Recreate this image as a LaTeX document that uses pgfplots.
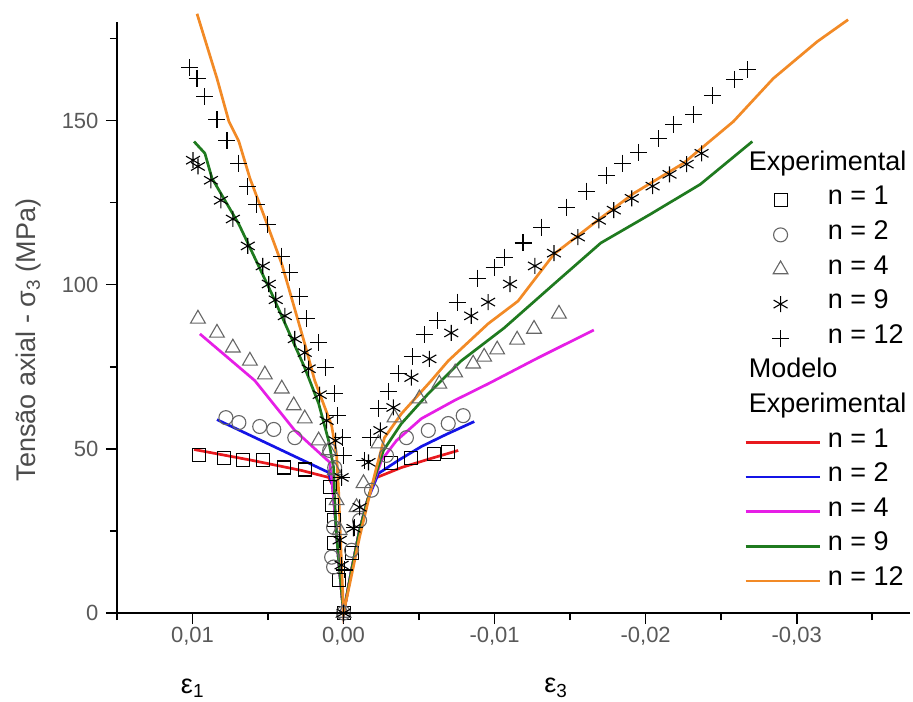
\documentclass[border=0pt]{standalone}
\usepackage{fontspec}
\setmainfont{Liberation Sans}
\usepackage{pgfplots}
\pgfplotsset{compat=1.18}
\definecolor{cRed}{HTML}{E8191E}
\definecolor{cBlue}{HTML}{1414E6}
\definecolor{cMag}{HTML}{E61EE6}
\definecolor{cGreen}{HTML}{1F7A1F}
\definecolor{cOrange}{HTML}{F28A26}
\pgfplotsset{
  markleg/.style={legend image code/.code={\path[draw=none,fill=none] (0bp,-0.5bp) rectangle (74bp,0.5bp);\draw[mark repeat=1,##1] plot[only marks] coordinates {(35bp,0bp)};}},
  lineleg/.style={legend image code/.code={\draw[##1] (0bp,0bp) -- (74bp,0bp);}},
  expm/.style={only marks, markleg, mark options={line width=1.1bp}},
  modl/.style={no marks, line width=2.7bp, lineleg},
}
\begin{document}
\begin{tikzpicture}
\begin{axis}[
  at={(0,0)}, anchor=south west,
  scale only axis, width=793bp, height=591bp,
  x dir=reverse, xmin=-0.0375, xmax=0.015, ymin=0, ymax=180,
  axis lines*=left, axis line style={line width=1.6bp},
  clip=false,
  xtick={0.01,0,-0.01,-0.02,-0.03},
  xticklabels={{0,01},{0,00},{-0,01},{-0,02},{-0,03}},
  minor xtick={0.015,0.005,-0.005,-0.015,-0.025,-0.035},
  ytick={0,50,100,150}, minor ytick={25,75,125,175},
  tick align=outside,
  major tick length=11bp, minor tick length=7bp,
  every tick/.style={line width=1.6bp, black},
  scaled x ticks=false,
  /pgf/number format/assume math mode=true,
  ticklabel style={font=\fontsize{22bp}{26bp}\selectfont, text=black!65},
  yticklabel style={xshift=-4bp},
  ylabel={Tensão axial - σ\textsubscript{3} (MPa)},
  ylabel shift=14bp,
  ylabel style={font=\fontsize{27bp}{32bp}\selectfont, text=black!70, at={(ticklabel cs:0.462)}},
  legend style={at={(rel axis cs:0.7907,0.7865)}, anchor=north west, draw=none, fill=none,
    font=\fontsize{27bp}{30bp}\selectfont, inner sep=0pt, column sep=7bp, row sep=0pt,
    nodes={inner sep=0pt, text height=22bp, text depth=12.6bp}},
  legend cell align=left,
]
\addlegendimage{empty legend}\addlegendentry{\hspace*{-79bp}Experimental}

\addplot[expm, mark=square, mark size=6.5bp, black] coordinates {
(0.00957,48.0) (0.00792,47.1) (0.00667,46.5) (0.00535,46.5) (0.00396,44.3) (0.00257,43.7)
(0.00092,38.3) (0.00079,32.8) (0.00066,28.2) (0.00066,21.3) (0.00033,10.0) (0,0)
(-0.00053,18.2) (-0.00317,45.6) (-0.00449,47.1) (-0.00601,48.3) (-0.00693,48.9)};
\addlegendentry{n = 1}

\addplot[expm, mark=o, mark size=7bp, black!60] coordinates {
(0.00779,59.5) (0.00693,58.0) (0.00555,56.8) (0.00462,55.9) (0.00323,53.4) (0.00092,49.5)
(0.00059,44.3) (0.00066,26.1) (0.00079,17.0) (0.00066,14.0) (0,0) (-0.00053,19.1)
(-0.00106,28.2) (-0.00185,37.4) (-0.00284,48.0) (-0.00416,53.4) (-0.00561,55.6)
(-0.00693,57.7) (-0.00792,60.1)};
\addlegendentry{n = 2}

\addplot[expm, mark=triangle, mark size=8.5bp, black!60] coordinates {
(0.00964,89.6) (0.00838,85.3) (0.00733,80.8) (0.00620,76.8) (0.00521,72.6) (0.00409,68.3)
(0.00330,63.2) (0.00257,59.2) (0.00165,52.5) (0.00099,49.5) (0.00059,43.4) (0.00046,34.3)
(0.00026,25.2) (0,0) (-0.00086,32.2) (-0.00132,39.5) (-0.00231,51.6) (-0.00337,59.5)
(-0.00502,65.3) (-0.00634,69.8) (-0.00739,73.2) (-0.00858,75.9) (-0.00931,78.0)
(-0.01017,80.2) (-0.01149,83.2) (-0.01261,86.5) (-0.01426,91.1)};
\addlegendentry{n = 4}

\addplot[expm, mark=asterisk, mark size=8bp, black] coordinates {
(0.00997,137.9) (0.00964,136.0) (0.00878,131.8) (0.00812,125.7) (0.00733,120.0)
(0.00634,111.8) (0.00535,105.7) (0.00495,100.2) (0.00449,95.4) (0.00389,90.5)
(0.00323,83.5) (0.00257,79.3) (0.00231,74.4) (0.00158,66.5) (0.00112,58.6)
(0.00053,52.5) (0.00013,41.3) (0.00026,22.2) (0.00013,14.6) (0,0) (-0.00066,25.8)
(-0.00106,32.2) (-0.00165,45.9) (-0.00244,55.6) (-0.00330,62.6) (-0.00449,71.7)
(-0.00568,77.4) (-0.00713,85.3) (-0.00845,90.5) (-0.00957,94.7) (-0.01102,100.2)
(-0.01267,105.7) (-0.01393,109.6) (-0.01551,114.5) (-0.01690,119.6) (-0.01789,122.7)
(-0.01908,126.3) (-0.02046,130.0) (-0.02158,133.6) (-0.02271,136.7) (-0.02370,140.0)};
\addlegendentry{n = 9}

\addplot[expm, mark=+, mark size=8.5bp, black] coordinates {
(0.01017,166.1) (0.00970,162.8) (0.00918,157.3) (0.00838,150.3) (0.00772,143.9)
(0.00693,137.0) (0.00634,130.0) (0.00574,124.5) (0.00502,118.4) (0.00409,108.7)
(0.00356,103.6) (0.00290,96.3) (0.00244,89.6) (0.00165,82.3) (0.00119,74.7)
(0.00059,66.8) (0.00040,60.1) (0.00007,53.4) (0,48.0) (0.00013,41.3) (-0.00007,13.1)
(0,0) (-0.00073,26.1) (-0.00139,46.5) (-0.00178,53.4) (-0.00231,62.3) (-0.00297,67.4)
(-0.00363,72.9) (-0.00455,78.0) (-0.00535,84.7) (-0.00620,89.0) (-0.00752,94.7)
(-0.00884,102.0) (-0.00997,105.1) (-0.01063,108.4) (-0.01188,112.7) (-0.01313,117.5)
(-0.01478,123.6) (-0.01611,128.5) (-0.01743,133.3) (-0.01848,137.0) (-0.01954,140.3)
(-0.02086,144.5) (-0.02185,148.8) (-0.02317,151.8) (-0.02442,157.6) (-0.02588,162.5)
(-0.02673,165.5)};
\addlegendentry{n = 12}

\addlegendimage{empty legend}\addlegendentry{\hspace*{-79bp}Modelo}
\addlegendimage{empty legend}\addlegendentry{\hspace*{-79bp}Experimental}

\addplot[modl, cRed] coordinates {
(0.00990,49.8) (0.00607,46.5) (0.00277,43.4) (0.00099,41.3) (0.00073,38.9) (0.00053,28.2)
(0.00033,16.1) (0,0) (-0.00053,13.1) (-0.00106,25.2) (-0.00158,34.3) (-0.00205,41.0)
(-0.00383,44.3) (-0.00581,47.1) (-0.00759,49.5)};
\addlegendentry{n = 1}

\addplot[modl, cBlue] coordinates {
(0.00838,58.9) (0.00475,51.0) (0.00099,42.8) (0.00073,38.9) (0.00053,28.2) (0.00033,16.1)
(0,0) (-0.00053,13.1) (-0.00106,25.2) (-0.00158,34.3) (-0.00231,42.5) (-0.00363,46.5)
(-0.00515,50.7) (-0.00680,54.4) (-0.00865,58.3)};
\addlegendentry{n = 2}

\addplot[modl, cMag] coordinates {
(0.00951,85.0) (0.00588,70.8) (0.00323,55.6) (0.00092,45.9) (0.00073,38.9) (0.00053,28.2)
(0.00033,16.1) (0,0) (-0.00053,13.1) (-0.00106,25.2) (-0.00158,34.3) (-0.00251,46.5)
(-0.00350,52.5) (-0.00515,59.2) (-0.00733,64.7) (-0.00957,69.8) (-0.01287,77.7)
(-0.01657,86.2)};
\addlegendentry{n = 4}

\addplot[modl, cGreen] coordinates {
(0.00990,143.6) (0.00918,140.0) (0.00871,132.4) (0.00693,118.4) (0.00475,97.2)
(0.00257,74.7) (0.00165,63.8) (0.00099,52.5) (0.00066,44.3) (0.00053,28.2) (0.00033,16.1)
(0,0) (-0.00053,13.1) (-0.00106,25.2) (-0.00158,34.3) (-0.00205,41.0) (-0.00264,49.5)
(-0.00383,57.7) (-0.00561,66.8) (-0.00779,76.8) (-0.01063,86.8) (-0.01393,100.2)
(-0.01703,112.7) (-0.02033,121.5) (-0.02363,130.6) (-0.02706,143.6)};
\addlegendentry{n = 9}

\addplot[modl, cOrange] coordinates {
(0.00970,182.5) (0.00838,162.8) (0.00759,149.7) (0.00693,143.6) (0.00620,132.4)
(0.00521,120.3) (0.00409,106.3) (0.00257,82.0) (0.00191,70.8) (0.00079,57.1)
(0.00046,48.0) (0.00033,37.4) (0.00020,22.2) (0,0) (-0.00053,11.5) (-0.00106,23.1)
(-0.00185,38.3) (-0.00218,44.3) (-0.00271,53.4) (-0.00383,60.7) (-0.00581,70.8)
(-0.00693,76.8) (-0.00957,88.1) (-0.01155,95.0) (-0.01393,109.3) (-0.01703,120.3)
(-0.01921,127.8) (-0.02251,137.0) (-0.02581,149.7) (-0.02845,162.8) (-0.03135,174.0)
(-0.03340,180.7)};
\addlegendentry{n = 12}

\node[font=\fontsize{27bp}{30bp}\selectfont] at (axis cs:0.01,0) [yshift=-75bp] {ε\textsubscript{1}};
\node[font=\fontsize{27bp}{30bp}\selectfont] at (axis cs:-0.01406,0) [yshift=-75bp] {ε\textsubscript{3}};
\end{axis}
\path (-117bp,-89bp) rectangle (796bp,613bp);
\end{tikzpicture}
\end{document}
